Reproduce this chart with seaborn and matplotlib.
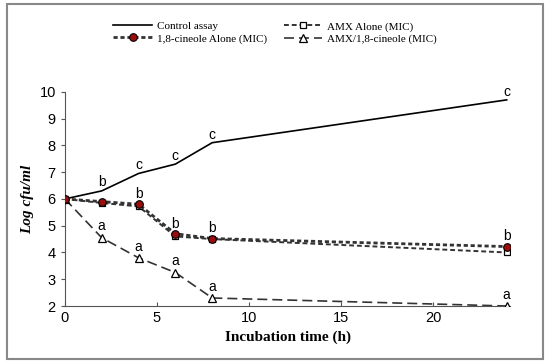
import pandas as pd
import matplotlib.pyplot as plt
import seaborn as sns
from matplotlib.patches import Rectangle

# data
hours = [0, 2, 4, 6, 8, 24]
control = [6.0, 6.3, 6.95, 7.3, 8.1, 9.7]
amx_alone = [6.0, 5.85, 5.72, 4.6, 4.5, 4.0]
cineole_alone = [6.0, 5.9, 5.8, 4.7, 4.52, 4.22]
amx_cineole = [6.0, 4.55, 3.8, 3.25, 2.3, 2.0]
letters_control = ['', '', 'c', 'c', 'c', 'c']
letters_cineole = ['', 'b', 'b', 'b', 'b', 'b']
letters_combo = ['', 'a', 'a', 'a', 'a', 'a']

series_names = ['Control assay', 'AMX Alone (MIC)', '1,8-cineole Alone (MIC)', 'AMX/1,8-cineole (MIC)']
df = pd.DataFrame({
    'time': hours * 4,
    'value': control + amx_alone + cineole_alone + amx_cineole,
    'series': [s for s in series_names for _ in hours],
})

styles = {
    'Control assay': dict(color='black', linestyle='-', marker=None, lw=1.2, zorder=3),
    'AMX Alone (MIC)': dict(color='#333333', linestyle=(0, (2.5, 1.5)), marker='s', markersize=5,
                            markerfacecolor='white', markeredgecolor='black', markeredgewidth=0.9,
                            lw=1.4, zorder=3),
    '1,8-cineole Alone (MIC)': dict(color='#333333', linestyle=(0, (1.5, 1)), marker='o', markersize=5.5,
                                    markerfacecolor='#9b0d0d', markeredgecolor='black',
                                    markeredgewidth=0.8, lw=2, zorder=4),
    'AMX/1,8-cineole (MIC)': dict(color='#333333', linestyle=(0, (6, 3)), marker='^', markersize=5.5,
                                  markerfacecolor='white', markeredgecolor='black', markeredgewidth=0.9,
                                  lw=1.2, zorder=3),
}

fig = plt.figure(figsize=(5.5, 3.63), dpi=100)
ax = fig.add_axes([0.118, 0.157, 0.81, 0.59])

# legend is filled column by column
legend_order = ['Control assay', '1,8-cineole Alone (MIC)', 'AMX Alone (MIC)', 'AMX/1,8-cineole (MIC)']
for name in legend_order:
    sub = df[df['series'] == name]
    sns.lineplot(data=sub, x='time', y='value', ax=ax, label=name, **styles[name])

def letters(xs, ys, labs, dy, extra=None):
    # significance letters above the points
    for i, (x, y, t) in enumerate(zip(xs, ys, labs)):
        if t:
            off = dy + (extra.get(i, 0) if extra else 0)
            ax.text(x, y + off, t, ha='center', va='center', fontsize=10, family='Liberation Sans')

letters(hours, control, letters_control, 0.3)
letters(hours, cineole_alone, letters_cineole, 0.38, extra={1: 0.35})
letters(hours, amx_cineole, letters_combo, 0.42)

ax.set_xlim(0, 24.2)
ax.set_ylim(2, 10)
ax.set_xticks([0, 5, 10, 15, 20])
ax.set_yticks(range(2, 11))
ax.tick_params(axis='both', labelsize=10.5, length=3, color='#555555')
ax.tick_params(axis='x', direction='in')
for lab in ax.get_xticklabels() + ax.get_yticklabels():
    lab.set_family('Liberation Sans')
for side in ['top', 'right']:
    ax.spines[side].set_visible(False)
for side in ['left', 'bottom']:
    ax.spines[side].set_color('#555555')
ax.set_xlabel('Incubation time (h)', family='Liberation Serif', fontweight='bold', fontsize=11)
ax.set_ylabel('Log cfu/ml', family='Liberation Serif', fontweight='bold', style='italic', fontsize=11)

ax.legend(loc='center', bbox_to_anchor=(0.5, 0.91), bbox_transform=fig.transFigure, ncol=2,
          frameon=False, prop={'family': 'Liberation Serif', 'size': 8}, handlelength=3.5,
          columnspacing=1.5, labelspacing=0.2, handletextpad=0.4)

fig.patches.append(Rectangle((0.013, 0.012), 0.974, 0.976, transform=fig.transFigure,
                             fill=False, edgecolor='#888888', lw=1.5))

plt.savefig('out.png', dpi=100)
